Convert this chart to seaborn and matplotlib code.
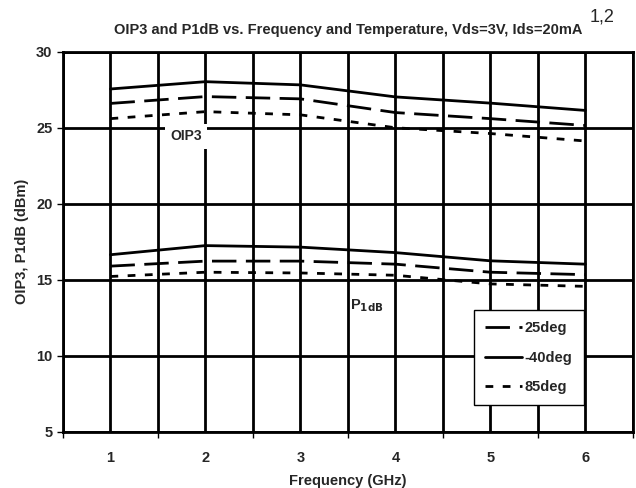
import numpy as np
import matplotlib
matplotlib.use("Agg")
import matplotlib.pyplot as plt
import seaborn as sns
import pandas as pd

sns.set_style('white')
plt.rcParams['font.family'] = ['Liberation Sans', 'DejaVu Sans']
plt.rcParams['font.weight'] = 'bold'

freq = [1, 2, 3, 4, 5, 6]
temps = ["25deg", "-40deg", "85deg"]

# OIP3 (dBm) per temperature
oip3_25 = [26.6, 27.05, 26.9, 26.0, 25.6, 25.15]
oip3_m40 = [27.55, 28.03, 27.82, 27.03, 26.62, 26.14]
oip3_85 = [25.6, 26.06, 25.85, 25.0, 24.62, 24.13]

# P1dB (dBm) per temperature
p1db_25 = [15.9, 16.23, 16.23, 16.03, 15.5, 15.34]
p1db_m40 = [16.65, 17.25, 17.15, 16.79, 16.25, 16.03]
p1db_85 = [15.22, 15.5, 15.45, 15.3, 14.73, 14.57]

rows = []
for meas, series in [("OIP3", [oip3_25, oip3_m40, oip3_85]),
                     ("P1dB", [p1db_25, p1db_m40, p1db_85])]:
    for t, vals in zip(temps, series):
        for f, v in zip(freq, vals):
            rows.append({"freq": f, "value": v, "temp": t, "meas": meas})
df = pd.DataFrame(rows)

lw = 2.0
dash_map = {"25deg": (8.8, 3.4), "-40deg": "", "85deg": (2.8, 3.4)}

fig = plt.figure(figsize=(6.36, 4.88), dpi=100)
ax = fig.add_axes([0.099, 0.115, 0.896, 0.779])

for meas in ["OIP3", "P1dB"]:
    sns.lineplot(data=df[df.meas == meas], x="freq", y="value", style="temp",
                 style_order=temps, dashes=dash_map, color="black", lw=lw,
                 ax=ax, legend=False)

ax.set_xlim(0.5, 6.5)
ax.set_ylim(5, 30)
ax.set_yticks(np.arange(5, 31, 5))
ax.set_xticks(freq)
ax.set_xticks(np.arange(0.5, 6.6, 0.5), minor=True)
ax.grid(True, axis="x", which="both", color="black", lw=lw)
ax.grid(True, axis="y", which="major", color="black", lw=lw)
ax.set_axisbelow(True)
ax.tick_params(axis="x", which="major", length=0, pad=14, labelsize=10.5)
ax.tick_params(axis="x", which="minor", length=4, width=1, direction="out", color="black")
ax.tick_params(axis="y", length=4, width=1, direction="out", color="black", labelsize=10.5)
ax.tick_params(axis="x", which="minor", bottom=True)
ax.tick_params(axis="y", left=True)
for s in ax.spines.values():
    s.set_color("black")
    s.set_linewidth(lw)

ax.set_xlabel("Frequency (GHz)", fontsize=10.5, fontweight="bold", labelpad=6)
ax.set_ylabel("OIP3, P1dB (dBm)", fontsize=10.5, fontweight="bold", labelpad=5)
ax.set_title("OIP3 and P1dB vs. Frequency and Temperature, Vds=3V, Ids=20mA",
             fontsize=10.5, fontweight="bold", pad=13)
fig.text(0.927, 0.965, "1,2", fontsize=13, fontweight="normal", ha="left", va="center")

ax.text(1.795, 24.45, "OIP3", fontsize=10, fontweight="bold", ha="center", va="center",
        bbox=dict(facecolor="white", edgecolor="none", pad=4))
ax.text(3.7, 13.3, "P$_{\\mathbf{1dB}}$", fontsize=10.5, fontweight="bold", ha="center", va="center")

handles = [plt.Line2D([], [], color="black", lw=lw, dashes=dash_map[t])
           if dash_map[t] else plt.Line2D([], [], color="black", lw=lw) for t in temps]
leg = ax.legend(handles, temps, loc="lower left", bbox_to_anchor=(0.721, 0.071),
                borderaxespad=0, frameon=True, fancybox=False, edgecolor="black",
                framealpha=1, handlelength=2.55, handletextpad=0.2, labelspacing=1.05,
                borderpad=0.75, prop={"size": 10.5, "weight": "bold"})
leg.get_frame().set_linewidth(1.0)

fig.savefig("out.png", dpi=100)
